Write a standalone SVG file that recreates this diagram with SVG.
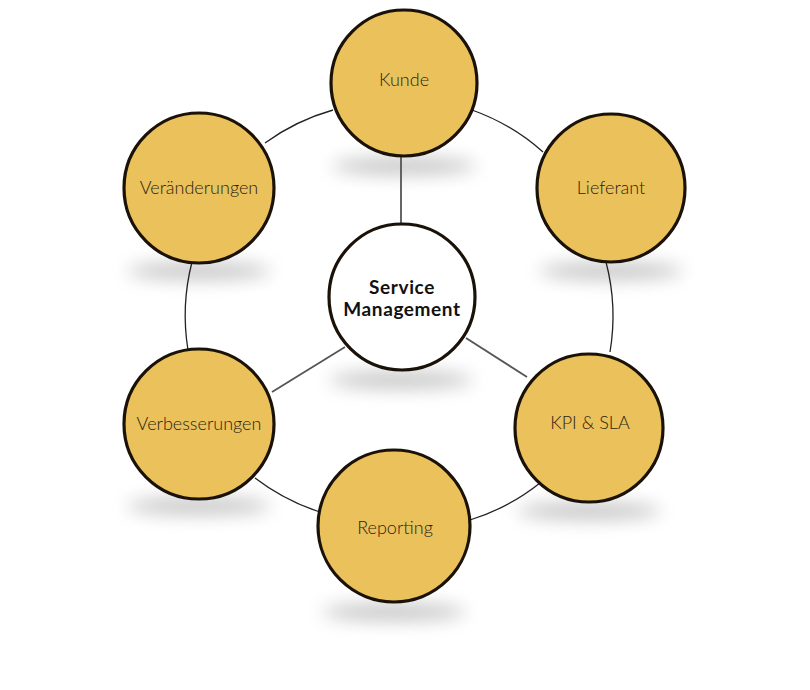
<svg xmlns="http://www.w3.org/2000/svg" width="810" height="690" viewBox="0 0 810 690">
<style>
.node{fill:#EAC15A;stroke:#1a1208;stroke-width:3.2}
.center{fill:#ffffff;stroke:#1a1208;stroke-width:3.2}
.lbl{font-family:Lato,"Open Sans","Liberation Sans",sans-serif;font-weight:300;font-size:18px;fill:#2a1f10;text-anchor:middle}
.clbl{font-family:Lato,"Open Sans","Liberation Sans",sans-serif;font-weight:700;font-size:19px;letter-spacing:0.6px;fill:#111;text-anchor:middle}
.ring{fill:none;stroke:#222;stroke-width:1.3}
.spoke{fill:none;stroke:#555;stroke-width:1.8}
.shadow{fill:#909090;filter:url(#blur);opacity:0.55}
</style>
<defs>
<filter id="blur" x="-50%" y="-300%" width="200%" height="700%"><feGaussianBlur stdDeviation="9"/></filter>
</defs>
<rect width="810" height="690" fill="#ffffff"/>
<g id="shadows">
<ellipse class="shadow" cx="404" cy="166" rx="72" ry="8"/>
<ellipse class="shadow" cx="611" cy="271" rx="72" ry="8"/>
<ellipse class="shadow" cx="199" cy="271" rx="72" ry="8"/>
<ellipse class="shadow" cx="401" cy="380" rx="72" ry="8"/>
<ellipse class="shadow" cx="199" cy="506" rx="72" ry="8"/>
<ellipse class="shadow" cx="589" cy="511" rx="72" ry="8"/>
<ellipse class="shadow" cx="394" cy="612" rx="72" ry="8"/>
</g>
<g id="connectors">
<path class="ring" d="M472,110 A215,215 0 0 1 543,152"/>
<path class="ring" d="M265,143 A215,215 0 0 1 333,110"/>
<path class="ring" d="M188,350 A215,215 0 0 1 192,262"/>
<path class="ring" d="M606,262 A215,215 0 0 1 610,352"/>
<path class="ring" d="M540,483 A215,215 0 0 1 470,520"/>
<path class="ring" d="M320,512 A215,215 0 0 1 255,478"/>
<line class="spoke" x1="401" y1="150" x2="401" y2="226"/>
<line class="spoke" x1="345" y1="347" x2="272" y2="392"/>
<line class="spoke" x1="466" y1="338" x2="527" y2="377"/>
</g>
<g id="kunde"><circle class="node" cx="404" cy="83" r="73"/><text class="lbl" x="404" y="86">Kunde</text></g>
<g id="lieferant"><circle class="node" cx="611" cy="188" r="74"/><text class="lbl" x="611" y="194">Lieferant</text></g>
<g id="veraenderungen"><circle class="node" cx="199" cy="188" r="75"/><text class="lbl" x="199" y="194">Veränderungen</text></g>
<g id="service-management"><circle class="center" cx="402" cy="297" r="73"/><text class="clbl" x="402" y="294">Service</text><text class="clbl" x="402" y="316">Management</text></g>
<g id="verbesserungen"><circle class="node" cx="199" cy="424" r="75"/><text class="lbl" x="199" y="430">Verbesserungen</text></g>
<g id="kpi-sla"><circle class="node" cx="589" cy="428" r="74"/><text class="lbl" x="590" y="429">KPI &amp; SLA</text></g>
<g id="reporting"><circle class="node" cx="394" cy="526" r="76"/><text class="lbl" x="395" y="534">Reporting</text></g>
</svg>
